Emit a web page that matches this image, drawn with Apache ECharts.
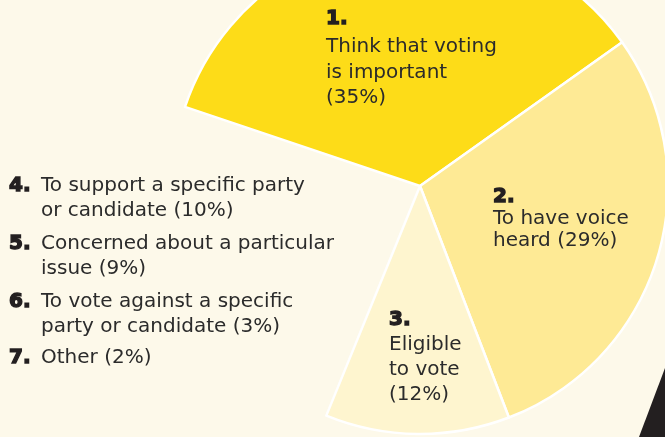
<!DOCTYPE html>
<html>
<head>
<meta charset="utf-8">
<script src="https://cdn.jsdelivr.net/npm/echarts@6/dist/echarts.min.js"></script>
<style>
html,body{margin:0;padding:0;background:#FDF9EA;}
#chart{width:665px;height:437px;}
</style>
</head>
<body>
<div id="chart"></div>
<script>
const numbers = ['1.', '2.', '3.', '4.', '5.', '6.', '7.'];
const categories = ['Think that voting is important', 'To have voice heard', 'Eligible to vote',
  'To support a specific party or candidate', 'Concerned about a particular issue',
  'To vote against a specific party or candidate', 'Other'];
const values = [35, 29, 12, 10, 9, 3, 2];
const labelLines = [
  ['Think that voting', 'is important', '(35%)'],
  ['To have voice', 'heard (29%)'],
  ['Eligible', 'to vote', '(12%)'],
  ['To support a specific party', 'or candidate (10%)'],
  ['Concerned about a particular', 'issue (9%)'],
  ['To vote against a specific', 'party or candidate (3%)'],
  ['Other (2%)']
];
const sliceColors = ['#FDDC18', '#FEEA95', '#FEF5CF'];

const FONT = 'DejaVu Sans';
const TEXT_COLOR = '#2B2B2B';
const numStyle = { fontFamily: FONT, fontWeight: 'bold', fontSize: 20, fill: '#231F20', stroke: '#231F20', lineWidth: 1.4 };
const txtStyle = { fontFamily: FONT, fontSize: 20, fill: TEXT_COLOR };

// label anchor positions (number position, first text line, line gap)
const sliceLabelPos = [
  { x: 326, numY: 19, textY: 47, gap: 25.5 },
  { x: 493, numY: 197, textY: 219, gap: 22 },
  { x: 389, numY: 320, textY: 345, gap: 25 }
];
const legendPos = [
  { y: 186 }, { y: 244 }, { y: 302 }, { y: 358 }
];

const graphics = [];
sliceLabelPos.forEach((p, i) => {
  graphics.push({ type: 'text', z: 100, x: p.x, y: p.numY, style: Object.assign({ text: numbers[i], textVerticalAlign: 'middle' }, numStyle) });
  labelLines[i].forEach((ln, j) => {
    graphics.push({ type: 'text', z: 100, x: p.x, y: p.textY + j * p.gap, style: Object.assign({ text: ln, textVerticalAlign: 'middle' }, txtStyle) });
  });
});
legendPos.forEach((p, k) => {
  const i = k + 3;
  graphics.push({ type: 'text', z: 100, x: 9, y: p.y, style: Object.assign({ text: numbers[i], textVerticalAlign: 'middle' }, numStyle) });
  labelLines[i].forEach((ln, j) => {
    graphics.push({ type: 'text', z: 100, x: 41, y: p.y + j * 25, style: Object.assign({ text: ln, textVerticalAlign: 'middle' }, txtStyle) });
  });
});
graphics.push({
  type: 'polygon',
  z: 100,
  shape: { points: [[665, 368], [665, 437], [639, 437]] },
  style: { fill: '#231F20' }
});

const chart = echarts.init(document.getElementById('chart'));
chart.setOption({
  backgroundColor: '#FDF9EA',
  animation: false,
  series: [{
    type: 'pie',
    center: [420, 186],
    radius: 248,
    startAngle: 161.4,
    clockwise: true,
    silent: true,
    z: 1,
    label: { show: false },
    labelLine: { show: false },
    data: categories.map((c, i) => ({
      name: c,
      value: values[i],
      itemStyle: i < 3
        ? { color: sliceColors[i], borderColor: '#FFFFFF', borderWidth: 2.5 }
        : { color: 'rgba(0,0,0,0)', borderWidth: 0 }
    }))
  }],
  graphic: { elements: graphics }
});
</script>
</body>
</html>
